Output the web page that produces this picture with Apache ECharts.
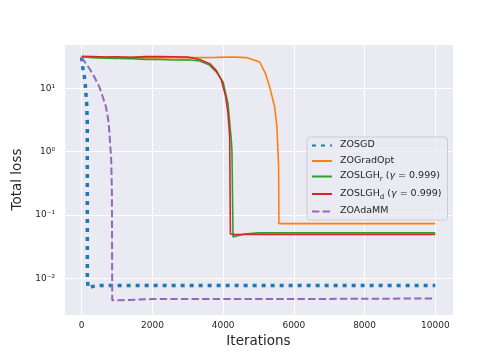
<!DOCTYPE html>
<html>
<head>
<meta charset="utf-8">
<script src="https://cdn.jsdelivr.net/npm/echarts@6/dist/echarts.min.js"></script>
<style>
  html, body { margin: 0; padding: 0; background: #fff; }
  #chart { width: 504px; height: 360px; }
</style>
</head>
<body>
<div id="chart"></div>
<script>
// [iteration, total loss]
var zosgd = [[0, 30.9], [28, 21.9], [73, 15.6], [102, 11.3], [121, 8.0], [141, 5.8], [158, 3.0],
  [160, 0.0097], [186, 0.0070], [404, 0.0077], [2000, 0.0077], [6000, 0.0077], [10000, 0.0077]];
var zogradopt = [[0, 31.5], [1000, 30.8], [2000, 30.2], [3000, 30.5], [3800, 30.8], [4300, 31.2],
  [4657, 30.5], [5033, 26], [5200, 17], [5315, 10.5], [5456, 5.1], [5521, 2.45], [5569, 0.57],
  [5577, 0.073], [5620, 0.071], [6000, 0.073], [10000, 0.073]];
var zoslghR = [[0, 31.5], [300, 30.5], [700, 29.8], [1000, 29.5], [1400, 29.2], [1800, 28.6],
  [2200, 28.4], [2600, 28], [3000, 28.2], [3339, 27], [3600, 23.5], [3810, 18], [3998, 12.6],
  [4138, 5.7], [4232, 1.5], [4249, 1.05], [4280, 0.045], [4600, 0.05], [5000, 0.052], [10000, 0.052]];
var zoslghD = [[0, 32], [300, 31.8], [700, 31.2], [1000, 31.5], [1400, 30.8], [1800, 31.6],
  [2200, 31.8], [2600, 31.4], [3000, 31], [3339, 28.4], [3621, 24.5], [3810, 19], [3951, 13.4],
  [4073, 7.3], [4138, 4], [4186, 1.7], [4205, 0.05], [4300, 0.049], [10000, 0.049]];
var zoadamm = [[0, 30.9], [45, 28], [214, 20.7], [355, 15.2], [496, 10.6], [593, 7.4], [686, 5.1],
  [751, 3.2], [779, 2.2], [835, 0.74], [855, 0.22], [864, 0.0045], [892, 0.0043], [1081, 0.0045],
  [2000, 0.0047], [6000, 0.0047], [10000, 0.0048]];

var seriesNames = ['ZOSGD', 'ZOGradOpt', 'ZOSLGHr', 'ZOSLGHd', 'ZOAdaMM'];
var legendText = {
  'ZOSGD': '{n|ZOSGD}',
  'ZOGradOpt': '{n|ZOGradOpt}',
  'ZOSLGHr': '{n|ZOSLGH}{s|r}{n| (}{g|γ}{n| = 0.999)}',
  'ZOSLGHd': '{n|ZOSLGH}{s|d}{n| (}{g|γ}{n| = 0.999)}',
  'ZOAdaMM': '{n|ZOAdaMM}'
};

var sup = { '-': '⁻', '0': '⁰', '1': '¹', '2': '²', '3': '³' };
function powLabel(v) {
  var l = Math.log10(v), e = Math.round(l);
  if (Math.abs(l - e) > 0.01) return '';
  return '10' + String(e).split('').map(function (c) { return sup[c]; }).join('');
}

var textColor = '#262626';
var font = 'DejaVu Sans';

function line(name, data, color, width, type) {
  return {
    name: name, type: 'line', data: data,
    showSymbol: false, symbol: 'none',
    lineStyle: { color: color, width: width, type: type, cap: 'butt' },
    itemStyle: { color: color }
  };
}

var chart = echarts.init(document.getElementById('chart'));
chart.setOption({
  animation: false,
  backgroundColor: '#ffffff',
  textStyle: { fontFamily: font },
  grid: { left: 64, right: 51, top: 44, bottom: 45, show: true, backgroundColor: '#EAEAF2', borderWidth: 0 },
  legend: {
    data: seriesNames,
    left: 307, top: 137,
    orient: 'vertical',
    itemWidth: 20, itemHeight: 8, itemGap: 5.5,
    padding: [3, 6, 4, 4],
    backgroundColor: 'rgba(234,234,242,0.8)',
    borderColor: '#cccccc', borderWidth: 1, borderRadius: 3,
    // hide the marker ECharts puts in the middle of a line legend icon
    itemStyle: { color: 'rgba(0,0,0,0)', borderColor: 'rgba(0,0,0,0)', borderWidth: 0 },
    formatter: function (name) { return legendText[name]; },
    textStyle: {
      color: textColor, fontFamily: font, fontSize: 9.5, padding: [0, 0, 0, 3],
      rich: {
        n: { fontSize: 9.5, fontFamily: font, color: textColor, lineHeight: 11, verticalAlign: 'top' },
        s: { fontSize: 7, fontFamily: font, color: textColor, lineHeight: 8, verticalAlign: 'top', padding: [5, 0, 0, 0] },
        g: { fontSize: 9.5, fontFamily: font, fontStyle: 'italic', color: textColor, lineHeight: 11, verticalAlign: 'top' }
      }
    }
  },
  xAxis: {
    type: 'value', min: -500, max: 10500,
    name: 'Iterations', nameLocation: 'middle', nameGap: 19,
    nameTextStyle: { fontSize: 13.5, color: textColor, fontFamily: font },
    axisLine: { show: false }, axisTick: { show: false },
    axisLabel: {
      color: textColor, fontSize: 9, margin: 6, showMinLabel: false, showMaxLabel: false,
      formatter: function (v) { return String(v); }
    },
    splitLine: { lineStyle: { color: '#ffffff', width: 1 } }
  },
  yAxis: {
    type: 'log', logBase: 10, min: 0.00263, max: 50,
    name: 'Total loss', nameLocation: 'middle', nameGap: 36,
    nameTextStyle: { fontSize: 13.5, color: textColor, fontFamily: font },
    axisLine: { show: false }, axisTick: { show: false },
    axisLabel: { color: textColor, fontSize: 9, margin: 9, showMinLabel: false, showMaxLabel: false, formatter: powLabel },
    splitLine: { lineStyle: { color: '#ffffff', width: 1 } },
    minorSplitLine: { show: false }
  },
  series: [
    line('ZOSGD', zosgd, '#1f77b4', 3.5, [4, 5]),
    line('ZOGradOpt', zogradopt, '#ff7f0e', 1.6, 'solid'),
    line('ZOSLGHr', zoslghR, '#2ca02c', 1.6, 'solid'),
    line('ZOSLGHd', zoslghD, '#d62728', 1.6, 'solid'),
    line('ZOAdaMM', zoadamm, '#9467bd', 2, [7.4, 3.2])
  ]
});
</script>
</body>
</html>
